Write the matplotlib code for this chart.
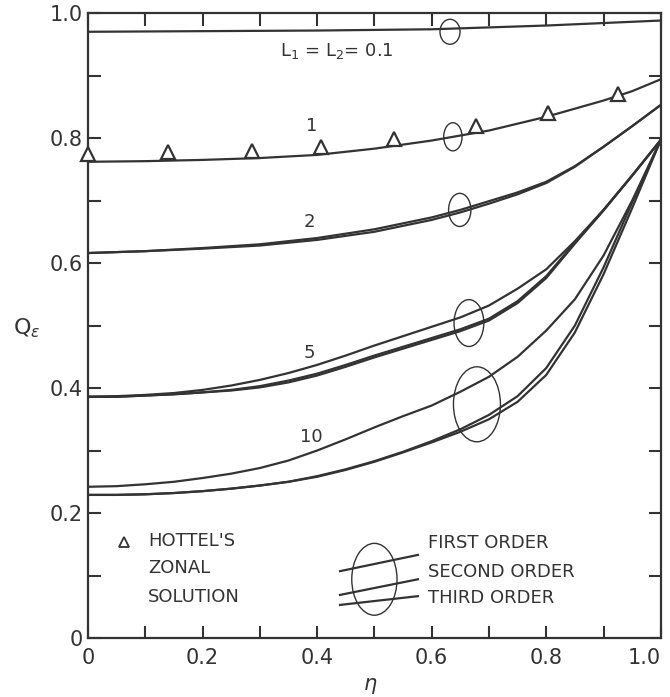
import numpy as np
import matplotlib
matplotlib.use("Agg")
import matplotlib.pyplot as plt
from matplotlib.patches import Ellipse

INK = "#333333"

# L1 = L2 = 0.1 (all orders coincide)
eta_01 = [0, 0.2, 0.4, 0.6, 0.8, 1.0]
q_01 = [0.970, 0.971, 0.972, 0.974, 0.980, 0.988]

# L = 1 (all orders coincide)
eta_1 = [0, 0.1, 0.2, 0.3, 0.4, 0.5, 0.6, 0.7, 0.8, 0.9, 0.95, 1.0]
q_1 = [0.762, 0.763, 0.765, 0.768, 0.773, 0.783, 0.796, 0.812, 0.834, 0.860, 0.875, 0.894]

# L = 2
eta_2 = [0, 0.1, 0.2, 0.3, 0.4, 0.5, 0.6, 0.65, 0.7, 0.75, 0.8, 0.85, 0.9, 0.95, 1.0]
q_2_first = [0.616, 0.619, 0.624, 0.630, 0.640, 0.654, 0.673, 0.685, 0.699, 0.713, 0.730, 0.755, 0.786, 0.819, 0.853]
q_2_second = [0.616, 0.619, 0.623, 0.628, 0.637, 0.650, 0.669, 0.681, 0.695, 0.710, 0.728, 0.754, 0.786, 0.819, 0.853]

# L = 5
eta_5 = [0, 0.05, 0.1, 0.15, 0.2, 0.25, 0.3, 0.35, 0.4, 0.45, 0.5, 0.55, 0.6,
         0.65, 0.7, 0.75, 0.8, 0.85, 0.9, 0.95, 1.0]
q_5_first = [0.386, 0.387, 0.389, 0.392, 0.397, 0.404, 0.413, 0.424, 0.437, 0.452, 0.468,
             0.483, 0.498, 0.513, 0.532, 0.559, 0.590, 0.635, 0.685, 0.740, 0.797]
q_5_second = [0.386, 0.386, 0.388, 0.390, 0.393, 0.397, 0.403, 0.412, 0.423, 0.437, 0.452,
              0.466, 0.480, 0.494, 0.511, 0.539, 0.579, 0.633, 0.685, 0.740, 0.797]
q_5_third = [0.386, 0.386, 0.388, 0.390, 0.393, 0.396, 0.401, 0.409, 0.420, 0.434, 0.449,
             0.463, 0.477, 0.491, 0.508, 0.536, 0.576, 0.631, 0.684, 0.740, 0.797]

# L = 10
eta_10 = [0, 0.05, 0.1, 0.15, 0.2, 0.25, 0.3, 0.35, 0.4, 0.45, 0.5, 0.55, 0.6,
          0.65, 0.7, 0.75, 0.8, 0.85, 0.9, 0.95, 1.0]
q_10_first = [0.242, 0.243, 0.246, 0.250, 0.256, 0.263, 0.272, 0.284, 0.300, 0.318, 0.337,
              0.355, 0.372, 0.394, 0.418, 0.450, 0.492, 0.542, 0.612, 0.700, 0.797]
q_10_second = [0.229, 0.229, 0.230, 0.232, 0.235, 0.239, 0.244, 0.250, 0.259, 0.270, 0.283,
               0.298, 0.315, 0.334, 0.357, 0.387, 0.432, 0.500, 0.593, 0.697, 0.797]
q_10_third = [0.229, 0.229, 0.230, 0.232, 0.235, 0.239, 0.244, 0.250, 0.258, 0.269, 0.282,
              0.297, 0.313, 0.330, 0.350, 0.378, 0.421, 0.489, 0.582, 0.688, 0.797]

# Hottel's zonal solution, L = 1
eta_hottel = [0, 0.14, 0.286, 0.407, 0.534, 0.677, 0.803, 0.925]
q_hottel = [0.774, 0.778, 0.779, 0.786, 0.798, 0.819, 0.840, 0.870]

# ellipses grouping the orders: centre eta, centre Q, width, height
ell_eta = [0.632, 0.637, 0.649, 0.665, 0.679]
ell_q = [0.970, 0.802, 0.685, 0.504, 0.374]
ell_w = [0.035, 0.032, 0.039, 0.052, 0.082]
ell_h = [0.040, 0.045, 0.053, 0.075, 0.120]

curve_labels = [r"L$_1$ = L$_2$= 0.1", "1", "2", "5", "10"]
label_eta = [0.435, 0.39, 0.387, 0.387, 0.39]
label_q = [0.94, 0.82, 0.666, 0.456, 0.322]

# order key graphic
key_eta = [0.44, 0.576]
key_first = [0.107, 0.133]
key_second = [0.069, 0.094]
key_third = [0.053, 0.067]
key_names = ["FIRST ORDER", "SECOND ORDER", "THIRD ORDER"]
key_text_q = [0.152, 0.106, 0.064]

fig = plt.figure(figsize=(6.70, 6.97), dpi=100)
ax = fig.add_axes([0.1313, 0.0846, 0.855, 0.8967])

lw = 1.6
ax.plot(eta_01, q_01, color=INK, lw=lw)
ax.plot(eta_1, q_1, color=INK, lw=lw)
ax.plot(eta_2, q_2_first, color=INK, lw=lw)
ax.plot(eta_2, q_2_second, color=INK, lw=lw)
ax.plot(eta_5, q_5_first, color=INK, lw=lw)
ax.plot(eta_5, q_5_second, color=INK, lw=lw)
ax.plot(eta_5, q_5_third, color=INK, lw=lw)
ax.plot(eta_10, q_10_first, color=INK, lw=lw)
ax.plot(eta_10, q_10_second, color=INK, lw=lw)
ax.plot(eta_10, q_10_third, color=INK, lw=lw)

ax.plot(eta_hottel, q_hottel, linestyle="none", marker="^", ms=10,
        mfc="white", mec=INK, mew=1.6, clip_on=False, zorder=5)

for x, y, w, h in zip(ell_eta, ell_q, ell_w, ell_h):
    ax.add_patch(Ellipse((x, y), w, h, fill=False, ec=INK, lw=1.0))

for txt, x, y in zip(curve_labels, label_eta, label_q):
    ax.text(x, y, txt, fontsize=13, color=INK, ha="center", va="center")

# Hottel key
ax.plot([0.063], [0.154], linestyle="none", marker="^", ms=7,
        mfc="white", mec=INK, mew=1.3)
for txt, y in zip(["HOTTEL'S", "ZONAL", "SOLUTION"], [0.155, 0.112, 0.066]):
    ax.text(0.105, y, txt, fontsize=13, color=INK, ha="left", va="center")

# order key
ax.add_patch(Ellipse((0.500, 0.094), 0.079, 0.115, fill=False, ec=INK, lw=1.0))
for ys in (key_first, key_second, key_third):
    ax.plot(key_eta, ys, color=INK, lw=lw)
for txt, y in zip(key_names, key_text_q):
    ax.text(0.593, y, txt, fontsize=13, color=INK, ha="left", va="center")

ax.set_xlim(0, 1.0)
ax.set_ylim(0, 1.0)
major = np.arange(0, 1.01, 0.2)
minor = np.arange(0.1, 1.0, 0.2)
ax.set_xticks(major)
ax.set_xticks(minor, minor=True)
ax.set_yticks(major)
ax.set_yticks(minor, minor=True)
ax.set_xticklabels(["0", "0.2", "0.4", "0.6", "0.8", "1.0"])
ax.set_yticklabels(["0", "0.2", "0.4", "0.6", "0.8", "1.0"])
ax.tick_params(which="both", direction="in", top=True, right=True,
               length=9, width=1.5, color=INK, labelcolor=INK, labelsize=15)
ax.tick_params(axis="x", pad=7)
ax.tick_params(axis="y", pad=4)
ax.get_xticklabels()[-1].set_horizontalalignment("right")
for s in ax.spines.values():
    s.set_linewidth(1.6)
    s.set_color(INK)

ax.set_ylabel(r"Q$_{\epsilon}$", fontsize=16, color=INK, rotation=0, va="center")
ax.yaxis.set_label_coords(-0.106, 0.496)
ax.set_xlabel(r"$\eta$", fontsize=15, color=INK, va="center")
ax.xaxis.set_label_coords(0.492, -0.077)

fig.savefig("out.png", dpi=100, facecolor="white")
